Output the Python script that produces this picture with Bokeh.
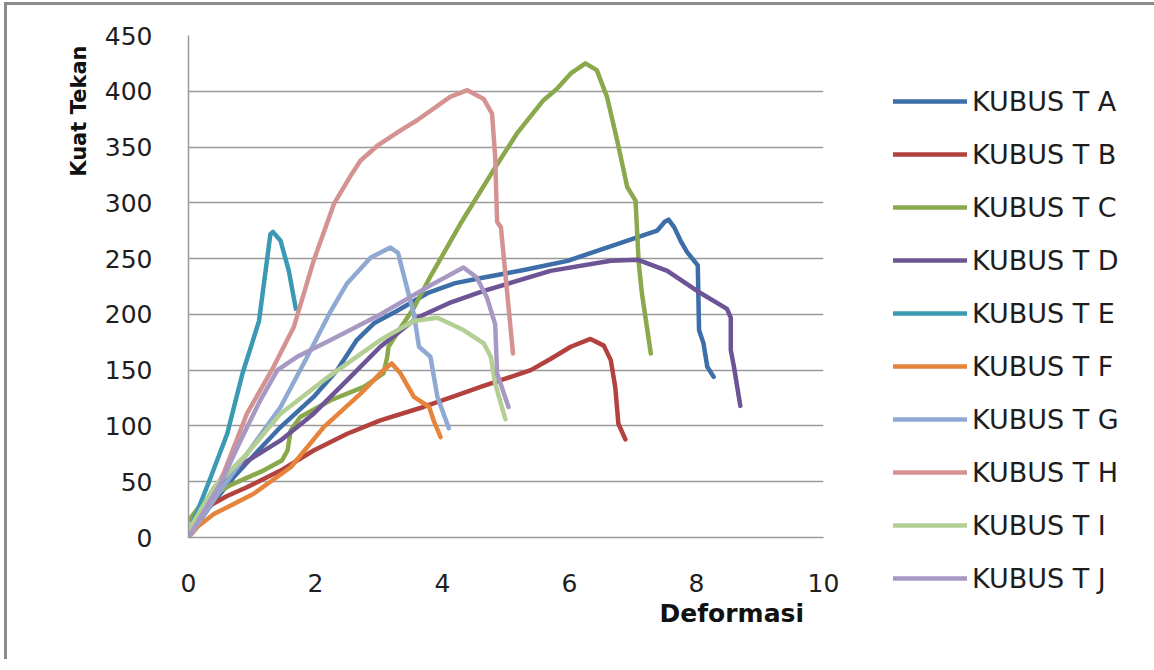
from bokeh.plotting import figure
from bokeh.models import Range1d, FixedTicker, Legend, LegendItem, Title
from bokeh.embed import file_html
from bokeh.resources import INLINE

series_names = ["KUBUS T A", "KUBUS T B", "KUBUS T C", "KUBUS T D", "KUBUS T E",
                "KUBUS T F", "KUBUS T G", "KUBUS T H", "KUBUS T I", "KUBUS T J"]

a_x = [0, 0.3, 0.71, 1.1, 1.45, 1.97, 2.34, 2.65, 2.92, 3.28, 3.76, 4.2, 4.65, 5.3, 5.97, 6.75, 7.38, 7.5, 7.56, 7.65, 7.75, 7.85, 8.02, 8.04, 8.11, 8.17, 8.27]
a_y = [0, 25, 54, 78, 99, 126, 150, 177, 192, 203, 219, 228, 233, 240, 248, 263, 275, 283, 285, 278, 266, 256, 244, 186, 174, 153, 144]

b_x = [0, 0.1, 0.29, 0.6, 0.92, 1.45, 1.97, 2.5, 3.02, 3.7, 4.2, 4.6, 5.39, 5.7, 6.02, 6.33, 6.54, 6.65, 6.72, 6.77, 6.88]
b_y = [0, 12, 27, 37, 45, 60, 78, 93, 105, 117, 127, 135, 150, 160, 171, 178, 172, 159, 135, 102, 88]

c_x = [0, 0.2, 0.4, 0.66, 0.9, 1.18, 1.47, 1.56, 1.61, 1.76, 2.24, 2.76, 3.07, 3.13, 3.15, 3.34, 3.55, 3.8, 4.28, 4.8, 5.17, 5.59, 5.8, 6.02, 6.25, 6.43, 6.59, 6.75, 6.91, 7.04, 7.09, 7.14, 7.28]
c_y = [15, 30, 38, 47, 53, 60, 69, 78, 96, 108, 123, 135, 147, 162, 171, 188, 206, 233, 281, 329, 362, 392, 402, 416, 425, 419, 395, 356, 314, 302, 246, 219, 165]

d_x = [0, 0.3, 0.77, 1.45, 1.97, 2.5, 3.02, 3.6, 4.1, 4.65, 5.7, 6.65, 7.07, 7.54, 8.01, 8.48, 8.54, 8.54, 8.59, 8.69]
d_y = [0, 30, 63, 87, 111, 141, 171, 197, 210, 221, 239, 248, 249, 239, 221, 205, 197, 168, 153, 118]

e_x = [0, 0.15, 0.35, 0.61, 0.85, 1.0, 1.11, 1.29, 1.33, 1.45, 1.58, 1.69]
e_y = [4, 25, 54, 93, 147, 174, 194, 272, 274, 266, 239, 205]

f_x = [0, 0.15, 0.4, 1.02, 1.61, 2.13, 2.71, 3.07, 3.2, 3.34, 3.55, 3.79, 3.86, 3.97]
f_y = [0, 10, 21, 39, 63, 99, 129, 150, 156, 147, 126, 117, 105, 90]

g_x = [0, 0.5, 0.92, 1.45, 1.87, 2.24, 2.5, 2.87, 3.18, 3.3, 3.44, 3.55, 3.63, 3.81, 3.92, 4.1]
g_y = [0, 42, 75, 117, 162, 203, 228, 251, 260, 255, 224, 200, 171, 162, 126, 98]

h_x = [0, 0.55, 0.92, 1.34, 1.66, 1.97, 2.29, 2.55, 2.71, 2.97, 3.34, 3.6, 4.12, 4.39, 4.65, 4.78, 4.83, 4.86, 4.92, 5.11]
h_y = [0, 57, 111, 153, 189, 248, 299, 324, 338, 351, 365, 374, 395, 401, 393, 380, 341, 283, 278, 165]

i_x = [0, 0.4, 0.92, 1.45, 2.13, 3.02, 3.55, 3.92, 4.33, 4.65, 4.76, 4.83, 4.99]
i_y = [6, 45, 75, 111, 141, 177, 194, 197, 186, 174, 162, 138, 106]

j_x = [0, 0.5, 0.82, 1.13, 1.4, 1.71, 2.24, 3.02, 3.81, 4.33, 4.54, 4.7, 4.83, 4.86, 5.04]
j_y = [0, 48, 87, 123, 150, 162, 177, 200, 226, 242, 233, 215, 191, 147, 117]

xs = [a_x, b_x, c_x, d_x, e_x, f_x, g_x, h_x, i_x, j_x]
ys = [a_y, b_y, c_y, d_y, e_y, f_y, g_y, h_y, i_y, j_y]
colors = ["#3D6EA8", "#B3423F", "#89A94C", "#6D5494", "#3A9AB3",
          "#E5843A", "#8FA9D2", "#D49392", "#B3CF94", "#A899C4"]

x_ticks = [0, 2, 4, 6, 8, 10]
y_ticks = [0, 50, 100, 150, 200, 250, 300, 350, 400, 450]

FONT = "DejaVu Sans"

p = figure(frame_width=635, frame_height=502, output_backend="svg", toolbar_location=None,
           x_range=Range1d(0, 10), y_range=Range1d(0, 450),
           min_border_left=181, min_border_top=30, min_border_right=0, min_border_bottom=122)
p.styles = {"border-left": "3px solid #8a8a8a", "border-top": "3px solid #8a8a8a",
            "border-right": "0px none", "border-bottom": "0px none",
            "outline": "none", "box-shadow": "none",
            "margin-left": "4px", "margin-top": "2px"}
p.outline_line_color = None
p.background_fill_color = "white"
p.border_fill_color = "white"

p.xgrid.grid_line_color = None
p.ygrid.grid_line_color = "#9a9a9a"
p.ygrid.grid_line_width = 1.5
p.ygrid.ticker = FixedTicker(ticks=y_ticks)

for ax in (p.xaxis[0], p.yaxis[0]):
    ax.axis_line_color = "#9a9a9a"
    ax.axis_line_width = 1.5
    ax.major_tick_line_color = None
    ax.minor_tick_line_color = None
    ax.major_label_text_font = FONT
    ax.major_label_text_font_size = "25px"
    ax.major_label_text_color = "#1e1e1e"
    ax.major_label_standoff = 30
p.xaxis[0].ticker = FixedTicker(ticks=x_ticks)
p.yaxis[0].ticker = FixedTicker(ticks=y_ticks)

items = []
for name, x, y, c in zip(series_names, xs, ys, colors):
    r = p.line(x, y, line_color=c, line_width=4.5, line_join="round", line_cap="round")
    items.append(LegendItem(label=name, renderers=[r]))

legend = Legend(items=items, location=(70, -57))
legend.padding = 0
legend.margin = 0
legend.border_line_color = None
legend.background_fill_alpha = 0
legend.glyph_width = 74
legend.glyph_height = 32
legend.label_height = 32
legend.spacing = 21
legend.label_standoff = 5
legend.label_text_font = FONT
legend.label_text_font_size = "27px"
legend.label_text_color = "#1e1e1e"
p.add_layout(legend, "right")

p.add_layout(Title(text="Deformasi", align="left", offset=471, standoff=4, text_font=FONT,
                   text_font_style="bold", text_font_size="25px", text_color="#111111"), "below")
p.add_layout(Title(text="Kuat Tekan", align="right", offset=10, standoff=22, text_font=FONT,
                   text_font_style="bold", text_font_size="21px", text_color="#111111"), "left")

open("out.html", "w").write(file_html(p, INLINE))
